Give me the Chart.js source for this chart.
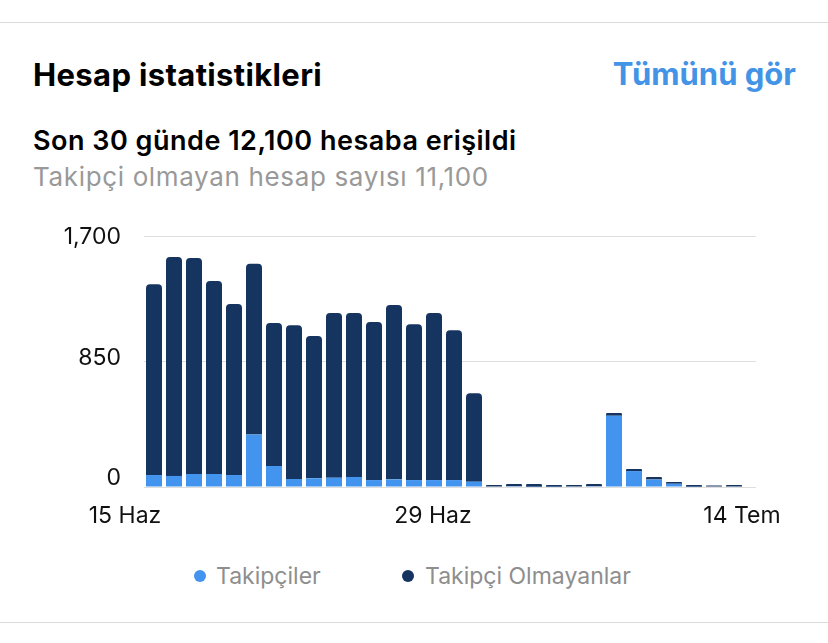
<!DOCTYPE html>
<html>
<head>
<meta charset="utf-8">
<script src="https://cdn.jsdelivr.net/npm/chart.js@4.4.1/dist/chart.umd.min.js"></script>
<style>
  html, body { margin: 0; padding: 0; background: #fff; }
  body { width: 828px; height: 643px; position: relative; overflow: hidden; font-family: Inter, sans-serif; }
  .line { position: absolute; left: 0; width: 828px; height: 1px; background: #dbdbdb; }
  .txt { position: absolute; line-height: 1; white-space: nowrap; }
  #title { left: 33px; top: 59px; font-size: 31px; font-weight: 700; letter-spacing: 0.35px; color: #000; }
  #seeAll { right: 32px; top: 58px; font-size: 31px; font-weight: 700; color: #4393e6; }
  #reach { left: 33px; top: 127px; font-size: 27px; font-weight: 600; letter-spacing: 0.5px; color: #000; }
  #sub { left: 33px; top: 164px; font-size: 26px; letter-spacing: 0.65px; color: #999; }
  .dot { position: absolute; width: 12px; height: 12px; border-radius: 50%; top: 570px; }
  .leg { position: absolute; top: 565px; font-size: 23px; line-height: 1; color: #8e8e8e; white-space: nowrap; }
  #wrap { position: absolute; left: 0; top: 200px; width: 828px; height: 340px; }
</style>
</head>
<body>
<div class="line" style="top:22px"></div>
<div class="txt" id="title">Hesap istatistikleri</div>
<div class="txt" id="seeAll">Tümünü gör</div>
<div class="txt" id="reach">Son 30 günde 12,100 hesaba erişildi</div>
<div class="txt" id="sub">Takipçi olmayan hesap sayısı 11,100</div>
<div id="wrap"><canvas id="myChart"></canvas></div>
<div class="dot" id="dot1" style="left:194px"></div>
<div class="leg" id="leg1" style="left:216px"></div>
<div class="dot" id="dot2" style="left:402px"></div>
<div class="leg" id="leg2" style="left:425px"></div>
<div class="line" style="top:622px"></div>
<script>
const days = [
  "15 Haz", "16 Haz", "17 Haz", "18 Haz", "19 Haz", "20 Haz", "21 Haz", "22 Haz",
  "23 Haz", "24 Haz", "25 Haz", "26 Haz", "27 Haz", "28 Haz", "29 Haz", "30 Haz",
  "1 Tem", "2 Tem", "3 Tem", "4 Tem", "5 Tem", "6 Tem", "7 Tem", "8 Tem",
  "9 Tem", "10 Tem", "11 Tem", "12 Tem", "13 Tem", "14 Tem"
];
const followers = [
  81, 75, 88, 88, 81, 355, 142, 54, 59, 63, 68, 47, 52, 47, 47, 47,
  36, 3, 5, 2, 2, 3, 5, 483, 108, 50, 22, 2, 0, 4
];
const nonFollowers = [
  1293, 1482, 1463, 1307, 1158, 1157, 968, 1042, 963, 1115, 1110, 1070, 1180, 1056, 1131, 1015,
  599, 11, 15, 18, 12, 10, 15, 19, 14, 18, 12, 12, 10, 10
];
const yTicks = [0, 850, 1700];
const xTickIdx = [0, 14, 29];
const seriesNames = ["Takipçiler", "Takipçi Olmayanlar"];
const colors = ["#4294ee", "#163460"];

document.getElementById("dot1").style.background = colors[0];
document.getElementById("dot2").style.background = colors[1];
document.getElementById("leg1").textContent = seriesNames[0];
document.getElementById("leg2").textContent = seriesNames[1];

// small nudges, the app does not centre its axis labels on the ticks
const xNudge = [-29, -1, 8];
const yNudge = [-9, -3.5, 1.5];

const axisLabels = {
  id: "axisLabels",
  afterDraw(chart) {
    const c = chart.ctx;
    const xs = chart.scales.x;
    const ys = chart.scales.y;
    c.save();
    c.font = "23px Inter";
    c.fillStyle = "#111";
    c.textBaseline = "middle";
    c.textAlign = "center";
    xTickIdx.forEach((idx, k) => {
      c.fillText(days[idx], xs.getPixelForValue(idx) + xNudge[k], chart.chartArea.bottom + 29);
    });
    c.textAlign = "right";
    yTicks.forEach((v, k) => {
      c.fillText(v.toLocaleString("en-US"), chart.chartArea.left - 23, ys.getPixelForValue(v) + yNudge[k]);
    });
    c.restore();
  }
};

const ctx = document.getElementById("myChart");

new Chart(ctx, {
  type: "bar",
  data: {
    datasets: [
      {
        label: seriesNames[0],
        data: followers.map((v, i) => ({ x: i, y: v })),
        backgroundColor: colors[0],
        borderRadius: 0,
      },
      {
        label: seriesNames[1],
        data: nonFollowers.map((v, i) => ({ x: i, y: v })),
        backgroundColor: colors[1],
        borderRadius: 4,
      },
    ],
  },
  options: {
    responsive: true,
    maintainAspectRatio: false,
    animation: false,
    categoryPercentage: 1,
    barPercentage: 0.8,
    layout: { padding: { top: 36, left: 0, right: 0, bottom: 0 } },
    plugins: {
      legend: { display: false },
      tooltip: { enabled: false },
    },
    scales: {
      x: {
        type: "linear",
        stacked: true,
        offset: false,
        min: -0.5,
        max: 30.1,
        grid: { display: false },
        border: { display: false },
        ticks: { display: false },
        afterFit(s) { s.height = 53; },
      },
      y: {
        stacked: true,
        min: 0,
        max: 1700,
        afterBuildTicks(s) { s.ticks = yTicks.map((v) => ({ value: v })); },
        grid: { color: "#dedede", drawTicks: false, lineWidth: 1 },
        border: { display: false },
        ticks: { display: false },
        afterFit(s) { s.width = 144; },
      },
      yr: {
        position: "right",
        grid: { display: false },
        border: { display: false },
        ticks: { display: false },
        afterFit(s) { s.width = 72; },
      },
    },
  },
  plugins: [axisLabels],
});
</script>
</body>
</html>
